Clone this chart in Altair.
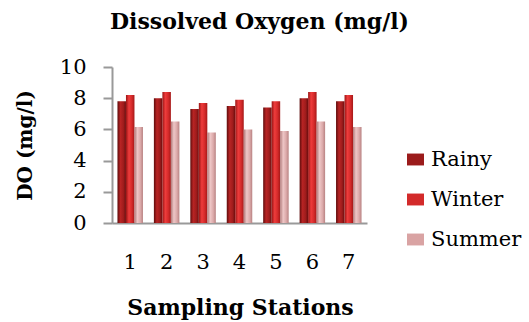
import altair as alt
import pandas as pd

stations = ["1", "2", "3", "4", "5", "6", "7"]
rainy = [7.8, 8.0, 7.3, 7.5, 7.4, 8.0, 7.8]
winter = [8.2, 8.4, 7.7, 7.9, 7.8, 8.4, 8.2]
summer = [6.15, 6.5, 5.8, 6.0, 5.9, 6.5, 6.15]
seasons = ["Rainy", "Winter", "Summer"]
colors = ["#9b1b1b", "#d32a2a", "#d9a3a3"]
gradients = [
    ["#5e0c0c", "#b82424", "#a01c1c", "#6a0e0e"],
    ["#9a1414", "#ee3c3c", "#d42a2a", "#a51818"],
    ["#b07a7a", "#eec6c6", "#dcaaaa", "#b88282"],
]

rows = []
for i, s in enumerate(stations):
    for name, vals in zip(seasons, [rainy, winter, summer]):
        rows.append({"Station": s, "Season": name, "DO": vals[i]})
df = pd.DataFrame(rows)

SERIF = "DejaVu Serif"

base = alt.Chart(df).encode(
    x=alt.X("Station:N", sort=stations,
            scale=alt.Scale(paddingInner=0.3, paddingOuter=0.15),
            axis=alt.Axis(title="Sampling Stations", labelAngle=0, ticks=False,
                          labelFontSize=21, labelFont=SERIF, labelColor="#000",
                          labelPadding=28, titleFont=SERIF, titleFontSize=22,
                          titleFontWeight="bold", titleColor="#000",
                          titleX=128, titleY=84, titleBaseline="middle", titleAlign="center",
                          domainColor="#999", domainWidth=2)),
    xOffset=alt.XOffset("Season:N", sort=seasons,
                        scale=alt.Scale(domain=seasons, paddingInner=0)),
    y=alt.Y("DO:Q", scale=alt.Scale(domain=[0, 10]),
            axis=alt.Axis(title="DO (mg/l)", values=[0, 2, 4, 6, 8, 10], grid=False,
                          labelFontSize=21, labelFont=SERIF, labelColor="#000",
                          labelPadding=17, tickSize=9, tickColor="#999", tickWidth=2,
                          domainColor="#999", domainWidth=2,
                          titleFont=SERIF, titleFontSize=20, titleFontWeight="bold",
                          titleColor="#000", titleAngle=270, titleX=-87, titleY=78,
                          titleBaseline="middle", titleAlign="center")),
)

layers = []
for name, g in zip(seasons, gradients):
    grad = alt.Gradient(
        gradient="linear", x1=0, x2=1, y1=0, y2=0,
        stops=[alt.GradientStop(color=g[0], offset=0),
               alt.GradientStop(color=g[1], offset=0.35),
               alt.GradientStop(color=g[2], offset=0.7),
               alt.GradientStop(color=g[3], offset=1)])
    layers.append(base.transform_filter(alt.datum.Season == name).mark_bar(color=grad))

legend_layer = base.mark_point(filled=True, opacity=0).encode(
    color=alt.Color("Season:N", sort=seasons,
                    scale=alt.Scale(domain=seasons, range=colors),
                    legend=alt.Legend(title=None, orient="none", legendX=293, legendY=82,
                                      padding=0,
                                      symbolType="M-1,-0.7L1,-0.7L1,0.7L-1,0.7Z",
                                      symbolSize=289, symbolOpacity=1, symbolStrokeWidth=0,
                                      labelFont=SERIF, labelFontSize=21, labelColor="#000",
                                      rowPadding=18, labelOffset=5)),
)

chart = alt.layer(*layers, legend_layer).properties(
    width=255, height=156,
    background="white",
    title=alt.TitleParams("Dissolved Oxygen (mg/l)", font=SERIF, fontSize=22,
                          fontWeight="bold", color="#000", anchor="middle",
                          frame="group", dx=20, offset=22),
    autosize=alt.AutoSizeParams(type="none"),
    padding={"left": 112, "top": 67, "right": 162, "bottom": 99},
).configure_view(stroke="transparent", strokeWidth=0)

chart.save("out.html", embed_options={"renderer": "svg", "actions": False})
